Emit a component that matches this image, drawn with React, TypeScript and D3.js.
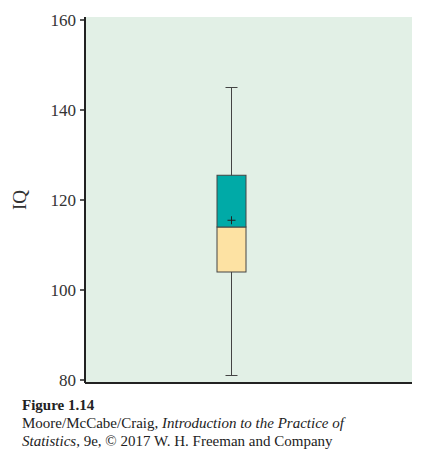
import React from "react";
import * as d3 from "d3";

const yTicks = [80, 100, 120, 140, 160];
const stats = { min: 81, q1: 104, median: 114, q3: 125.5, max: 145, mean: 115.5 };
const yDomain = [80, 160];

export default function App() {
  const W = 424, H = 458;
  const left = 85, right = 412, top = 17, bottom = 383;
  const y = d3.scaleLinear().domain(yDomain).range([380, 20]);
  const cx = 231.5, bw = 29;
  const font = "'Liberation Serif', 'DejaVu Serif', serif";
  return (
    <svg width={W} height={H} style={{ position: "absolute", left: 0, top: 0 }}>
      <rect x={left} y={top} width={right - left} height={bottom - top} fill="#e2f0e6" />
      <line x1={left} x2={left} y1={top} y2={bottom} stroke="#222" strokeWidth={2} />
      <line x1={left} x2={right} y1={bottom} y2={bottom} stroke="#222" strokeWidth={2} />
      {yTicks.map(t => (
        <g key={t}>
          <line x1={left - 5} x2={left} y1={y(t)} y2={y(t)} stroke="#222" strokeWidth={1.5} />
          <text x={left - 9} y={y(t)} dy="0.35em" textAnchor="end" fontFamily={font} fontSize={17} fill="#333">{t}</text>
        </g>
      ))}
      <text transform={`translate(26,${y(120)}) rotate(-90)`} textAnchor="middle" fontFamily={font} fontSize={19} fill="#333">IQ</text>
      <line x1={cx} x2={cx} y1={y(stats.max)} y2={y(stats.min)} stroke="#444" strokeWidth={1} />
      <line x1={cx - 6} x2={cx + 6} y1={y(stats.max)} y2={y(stats.max)} stroke="#444" />
      <line x1={cx - 6} x2={cx + 6} y1={y(stats.min)} y2={y(stats.min)} stroke="#444" />
      <rect x={cx - bw / 2} width={bw} y={y(stats.median)} height={y(stats.q1) - y(stats.median)} fill="#fde2a3" stroke="#444" />
      <rect x={cx - bw / 2} width={bw} y={y(stats.q3)} height={y(stats.median) - y(stats.q3)} fill="#00aaa7" stroke="#444" />
      <line x1={cx - 4} x2={cx + 4} y1={y(stats.mean)} y2={y(stats.mean)} stroke="#222" />
      <line x1={cx} x2={cx} y1={y(stats.mean) - 4} y2={y(stats.mean) + 4} stroke="#222" />
      <text x={22} y={410} fontFamily={font} fontSize={15} fontWeight="bold" fill="#222">Figure 1.14</text>
      <text x={22} y={428} fontFamily={font} fontSize={15} fill="#222">Moore/McCabe/Craig, <tspan fontStyle="italic">Introduction to the Practice of</tspan></text>
      <text x={22} y={446} fontFamily={font} fontSize={15} fill="#222"><tspan fontStyle="italic">Statistics</tspan>, 9e, © 2017 W. H. Freeman and Company</text>
    </svg>
  );
}
